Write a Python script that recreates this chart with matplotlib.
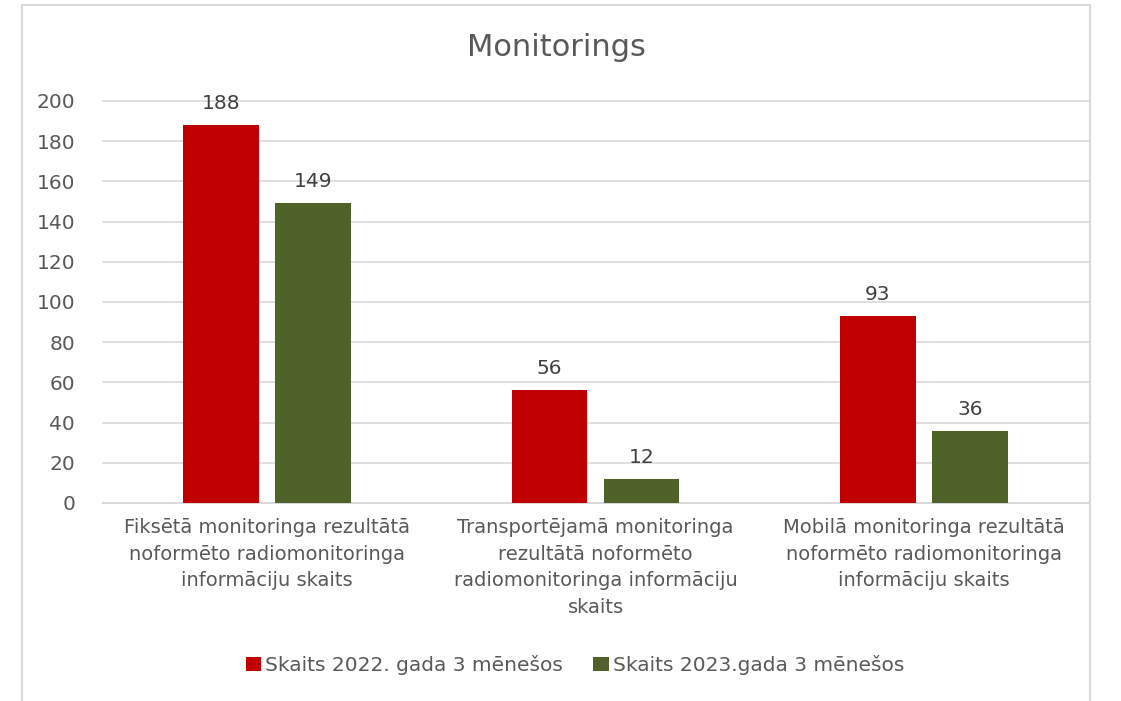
import numpy as np
import matplotlib.pyplot as plt
from matplotlib.patches import Rectangle

categories = [
    "Fiksētā monitoringa rezultātā\nnoformēto radiomonitoringa\ninformāciju skaits",
    "Transportējamā monitoringa\nrezultātā noformēto\nradiomonitoringa informāciju\nskaits",
    "Mobilā monitoringa rezultātā\nnoformēto radiomonitoringa\ninformāciju skaits",
]
series_names = ["Skaits 2022. gada 3 mēnešos", "Skaits 2023.gada 3 mēnešos"]
values_2022 = [188, 56, 93]
values_2023 = [149, 12, 36]
colors = ["#C00000", "#4F6228"]

plt.rcParams['font.family'] = ['DejaVu Sans']
text_color = "#595959"

fig = plt.figure(figsize=(11.21, 7.01), dpi=100)
ax = fig.add_axes([0.0919, 0.2825, 0.8787, 0.5735])

# chart border
fig.patches.append(Rectangle((22 / 1121, -0.05), (1090 - 22) / 1121, 1 - 5 / 701 + 0.05,
                             transform=fig.transFigure, fill=False,
                             edgecolor="#D9D9D9", linewidth=1.5))

x = np.arange(len(categories))
w = 0.23
offset = 0.14
for vals, col, name, sign in [(values_2022, colors[0], series_names[0], -1),
                              (values_2023, colors[1], series_names[1], 1)]:
    bars = ax.bar(x + sign * offset, vals, width=w, color=col, label=name, zorder=3)
    for b, v in zip(bars, vals):
        ax.text(b.get_x() + b.get_width() / 2, v + 6, str(v), ha='center', va='bottom',
                fontsize=14.5, color="#404040")

ax.set_xlim(-0.5, 2.5)
ax.set_ylim(0, 200)
ax.set_yticks(np.arange(0, 201, 20))
ax.yaxis.grid(True, color="#D9D9D9", linewidth=1.2, zorder=0)
for gl in ax.get_ygridlines():
    gl.set_clip_on(False)
ax.set_axisbelow(True)
for s in ['top', 'right', 'left']:
    ax.spines[s].set_visible(False)
ax.spines['bottom'].set_color("#D9D9D9")
ax.spines['bottom'].set_linewidth(1.5)
ax.tick_params(axis='both', length=0, labelsize=14, labelcolor=text_color)
ax.tick_params(axis='y', labelsize=14.5, pad=20)
ax.tick_params(axis='x', pad=11)
ax.set_xticks(x)
ax.set_xticklabels(categories, linespacing=1.5)

fig.text(0.5 * (22 + 1090) / 1121, 1 - 48 / 701, "Monitorings", ha='center', va='center',
         fontsize=22, color=text_color)

fig.legend(loc='center', bbox_to_anchor=(0.513, 1 - 665 / 701), ncol=2, frameon=False,
           fontsize=14.5, handlelength=0.75, handleheight=0.75, handletextpad=0.2,
           columnspacing=1.5, labelcolor=text_color)

fig.savefig("out.png", dpi=100)
